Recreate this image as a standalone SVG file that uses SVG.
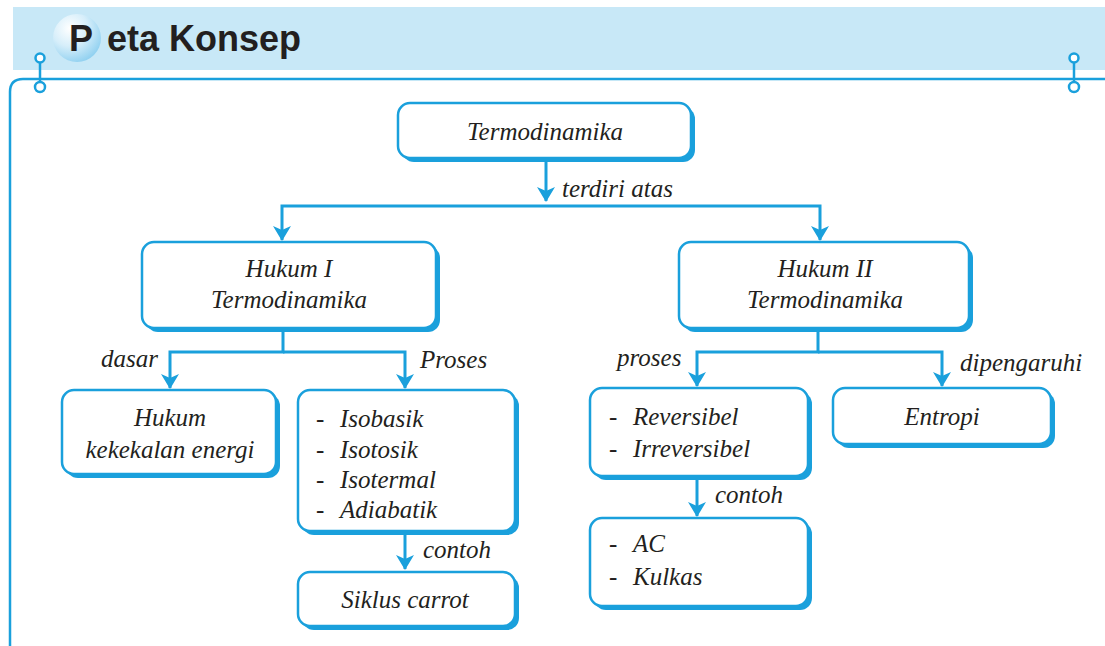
<svg xmlns="http://www.w3.org/2000/svg" width="1105" height="646" viewBox="0 0 1105 646">
<style>
.sh{fill:#1aa0dc}
.bx{fill:#fff;stroke:#1aa0dc;stroke-width:2.5}
.t{font-family:"Liberation Serif","Times New Roman",serif;font-style:italic;font-size:25px;fill:#231f20}
.m{text-anchor:middle}
.c{fill:none;stroke:#1aa0dc;stroke-width:3}
.ring{fill:#fff;stroke:#1aa0dc;stroke-width:2.5}
</style>
<defs>
<marker id="ah" markerUnits="userSpaceOnUse" viewBox="0 0 15 18" markerWidth="15" markerHeight="18" refX="14" refY="9" orient="auto">
<path d="M0,0 L15,9 L0,18 L4,9 z" fill="#1aa0dc"/>
</marker>
<radialGradient id="sph" cx="0.35" cy="0.3" r="0.75">
<stop offset="0" stop-color="#ffffff"/>
<stop offset="0.5" stop-color="#d6eefa"/>
<stop offset="1" stop-color="#8fd0f0"/>
</radialGradient>
</defs>
<rect width="1105" height="646" fill="#fff"/>
<g id="header">
<rect x="13" y="7" width="1092" height="63" fill="#c8e8f7"/>
<circle cx="77" cy="38" r="24" fill="url(#sph)"/>
<text x="69" y="51" font-family="Liberation Sans,Arial,sans-serif" font-weight="bold" font-size="36" fill="#231f20">P</text>
<text x="107" y="51" font-family="Liberation Sans,Arial,sans-serif" font-weight="bold" font-size="36" fill="#231f20">eta Konsep</text>
</g>
<g id="frame">
<path d="M10,646 V92 Q10,79 23,79 H1105" fill="none" stroke="#1aa0dc" stroke-width="2.5"/>
<line x1="40" y1="58" x2="40" y2="87" stroke="#1aa0dc" stroke-width="2.5"/>
<circle class="ring" cx="40" cy="58" r="4.5"/>
<circle class="ring" cx="40" cy="87" r="5"/>
<line x1="1074" y1="58" x2="1074" y2="87" stroke="#1aa0dc" stroke-width="2.5"/>
<circle class="ring" cx="1074" cy="58" r="4.5"/>
<circle class="ring" cx="1074" cy="87" r="5"/>
</g>
<g id="connectors">
<path class="c" d="M546,160 V201" marker-end="url(#ah)"/>
<path class="c" d="M546,206 H282 V240" marker-end="url(#ah)"/>
<path class="c" d="M546,206 H820 V240" marker-end="url(#ah)"/>
<path class="c" d="M283,330 V352 H170 V388" marker-end="url(#ah)"/>
<path class="c" d="M283,352 H405 V388" marker-end="url(#ah)"/>
<path class="c" d="M818,330 V352 H697 V386" marker-end="url(#ah)"/>
<path class="c" d="M818,352 H942 V386" marker-end="url(#ah)"/>
<path class="c" d="M405,533 V569" marker-end="url(#ah)"/>
<path class="c" d="M697,478 V516" marker-end="url(#ah)"/>
<text class="t" x="562" y="197">terdiri atas</text>
<text class="t" x="158" y="367" text-anchor="end">dasar</text>
<text class="t" x="420" y="368">Proses</text>
<text class="t" x="617" y="366">proses</text>
<text class="t" x="960" y="371">dipengaruhi</text>
<text class="t" x="423" y="558">contoh</text>
<text class="t" x="715" y="503">contoh</text>
</g>
<g id="termodinamika">
<rect class="sh" x="402" y="107" width="293" height="55" rx="12"/>
<rect class="bx" x="398" y="103" width="293" height="55" rx="12"/>
<text class="t m" x="545" y="140">Termodinamika</text>
</g>
<g id="hukum1">
<rect class="sh" x="146" y="246" width="294" height="86" rx="12"/>
<rect class="bx" x="142" y="242" width="294" height="86" rx="12"/>
<text class="t m" x="289" y="277">Hukum I</text>
<text class="t m" x="289" y="308">Termodinamika</text>
</g>
<g id="hukum2">
<rect class="sh" x="683" y="246" width="290" height="86" rx="12"/>
<rect class="bx" x="679" y="242" width="290" height="86" rx="12"/>
<text class="t m" x="825" y="277">Hukum II</text>
<text class="t m" x="825" y="308">Termodinamika</text>
</g>
<g id="kekekalan">
<rect class="sh" x="66" y="394" width="214" height="84" rx="12"/>
<rect class="bx" x="62" y="390" width="214" height="84" rx="12"/>
<text class="t m" x="170" y="426">Hukum</text>
<text class="t m" x="170" y="458">kekekalan energi</text>
</g>
<g id="proses1">
<rect class="sh" x="302" y="394" width="217" height="141" rx="12"/>
<rect class="bx" x="298" y="390" width="217" height="141" rx="12"/>
<text class="t" x="316" y="427">-</text><text class="t" x="340" y="427">Isobasik</text>
<text class="t" x="316" y="458">-</text><text class="t" x="340" y="458">Isotosik</text>
<text class="t" x="316" y="488">-</text><text class="t" x="340" y="488">Isotermal</text>
<text class="t" x="316" y="518">-</text><text class="t" x="340" y="518">Adiabatik</text>
</g>
<g id="siklus">
<rect class="sh" x="302" y="576" width="217" height="54" rx="12"/>
<rect class="bx" x="298" y="572" width="217" height="54" rx="12"/>
<text class="t m" x="405" y="608">Siklus carrot</text>
</g>
<g id="proses2">
<rect class="sh" x="594" y="392" width="218" height="88" rx="12"/>
<rect class="bx" x="590" y="388" width="218" height="88" rx="12"/>
<text class="t" x="609" y="425">-</text><text class="t" x="633" y="425">Reversibel</text>
<text class="t" x="609" y="457">-</text><text class="t" x="633" y="457">Irreversibel</text>
</g>
<g id="entropi">
<rect class="sh" x="837" y="392" width="218" height="56" rx="12"/>
<rect class="bx" x="833" y="388" width="218" height="56" rx="12"/>
<text class="t m" x="942" y="425">Entropi</text>
</g>
<g id="contoh2">
<rect class="sh" x="594" y="522" width="218" height="88" rx="12"/>
<rect class="bx" x="590" y="518" width="218" height="88" rx="12"/>
<text class="t" x="609" y="552">-</text><text class="t" x="633" y="552">AC</text>
<text class="t" x="609" y="585">-</text><text class="t" x="633" y="585">Kulkas</text>
</g>
</svg>
